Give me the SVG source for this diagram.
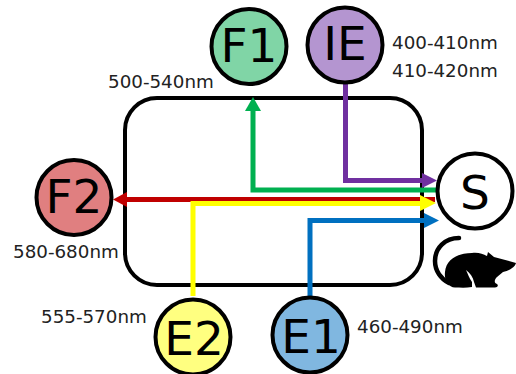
<svg xmlns="http://www.w3.org/2000/svg" width="516" height="374" viewBox="0 0 516 374">
<style>
.n{stroke:#000;stroke-width:4}
.l{font-family:"DejaVu Sans",Verdana,sans-serif;font-size:47px;text-anchor:middle;fill:#000}
.t{font-family:"DejaVu Sans",Verdana,sans-serif;font-size:18.300px;fill:#222}
.c{fill:none;stroke-width:5}
</style>
<rect width="516" height="374" fill="#fff"/>
<g id="chamber"><rect x="125" y="98" width="297" height="187" rx="32" fill="none" stroke="#000" stroke-width="4"/></g>
<g id="mouse">
<path d="M459 238C445 238 435 248 435 261C435 271 441 279 449 283" fill="none" stroke="#000" stroke-width="4.500" stroke-linecap="round"/>
<path d="M445 272C446 260 457 253 472 253C478 252 483 254 487 256L488 252L494 257L516 263C515 267 509 271 503 272L497 277C494 280 494 283 497 284C499 286 497 287.500 495 287.500H476L474 282C473 277 470 273 466 270C468 274 469 278 472 282L472 287C466 288 460 287.500 455 287.500C448 287 444 280 445 272Z" fill="#000"/>
</g>
<g id="connectors">
<path class="c" stroke="#00b050" d="M436 190H253V108"/>
<path fill="#00b050" d="M253 97L261 111H245Z"/>
<path class="c" stroke="#7030a0" d="M345.500 75V180.500H424"/>
<path fill="#7030a0" d="M437 180.500L422 173V188Z"/>
<path class="c" stroke="#c00000" d="M435 199.500H124"/>
<path fill="#c00000" d="M113 199.500L127 192V207Z"/>
<path class="c" stroke="#ffff00" d="M193 296V203.500H422"/>
<path fill="#ffff00" d="M436 203L420 195V211Z"/>
<path class="c" stroke="#0070c0" d="M310 297V220.500H426"/>
<path fill="#0070c0" d="M439 220.500L424 213V228Z"/>
</g>
<g id="F1"><circle class="n" cx="249" cy="46.500" r="37.500" fill="#80d5a6"/><text class="l" x="249" y="62">F1</text></g>
<g id="IE"><circle class="n" cx="345" cy="45" r="37.500" fill="#b495d0"/><text class="l" x="345" y="60">IE</text></g>
<g id="S"><circle class="n" cx="475" cy="191" r="37.500" fill="#fff"/><text class="l" x="475" y="209">S</text></g>
<g id="F2"><circle class="n" cx="74" cy="197.500" r="37.500" fill="#e07f80"/><text class="l" x="74" y="213">F2</text></g>
<g id="E2"><circle class="n" cx="193" cy="337" r="37.500" fill="#ffff80"/><text class="l" x="194" y="355">E2</text></g>
<g id="E1"><circle class="n" cx="310" cy="335" r="37.500" fill="#80b7e0"/><text class="l" x="311" y="353">E1</text></g>
<g id="labels">
<text class="t" x="108" y="88">500-540nm</text>
<text class="t" x="392" y="49">400-410nm</text>
<text class="t" x="392" y="77">410-420nm</text>
<text class="t" x="13" y="258">580-680nm</text>
<text class="t" x="41" y="323">555-570nm</text>
<text class="t" x="357" y="333">460-490nm</text>
</g>
</svg>
